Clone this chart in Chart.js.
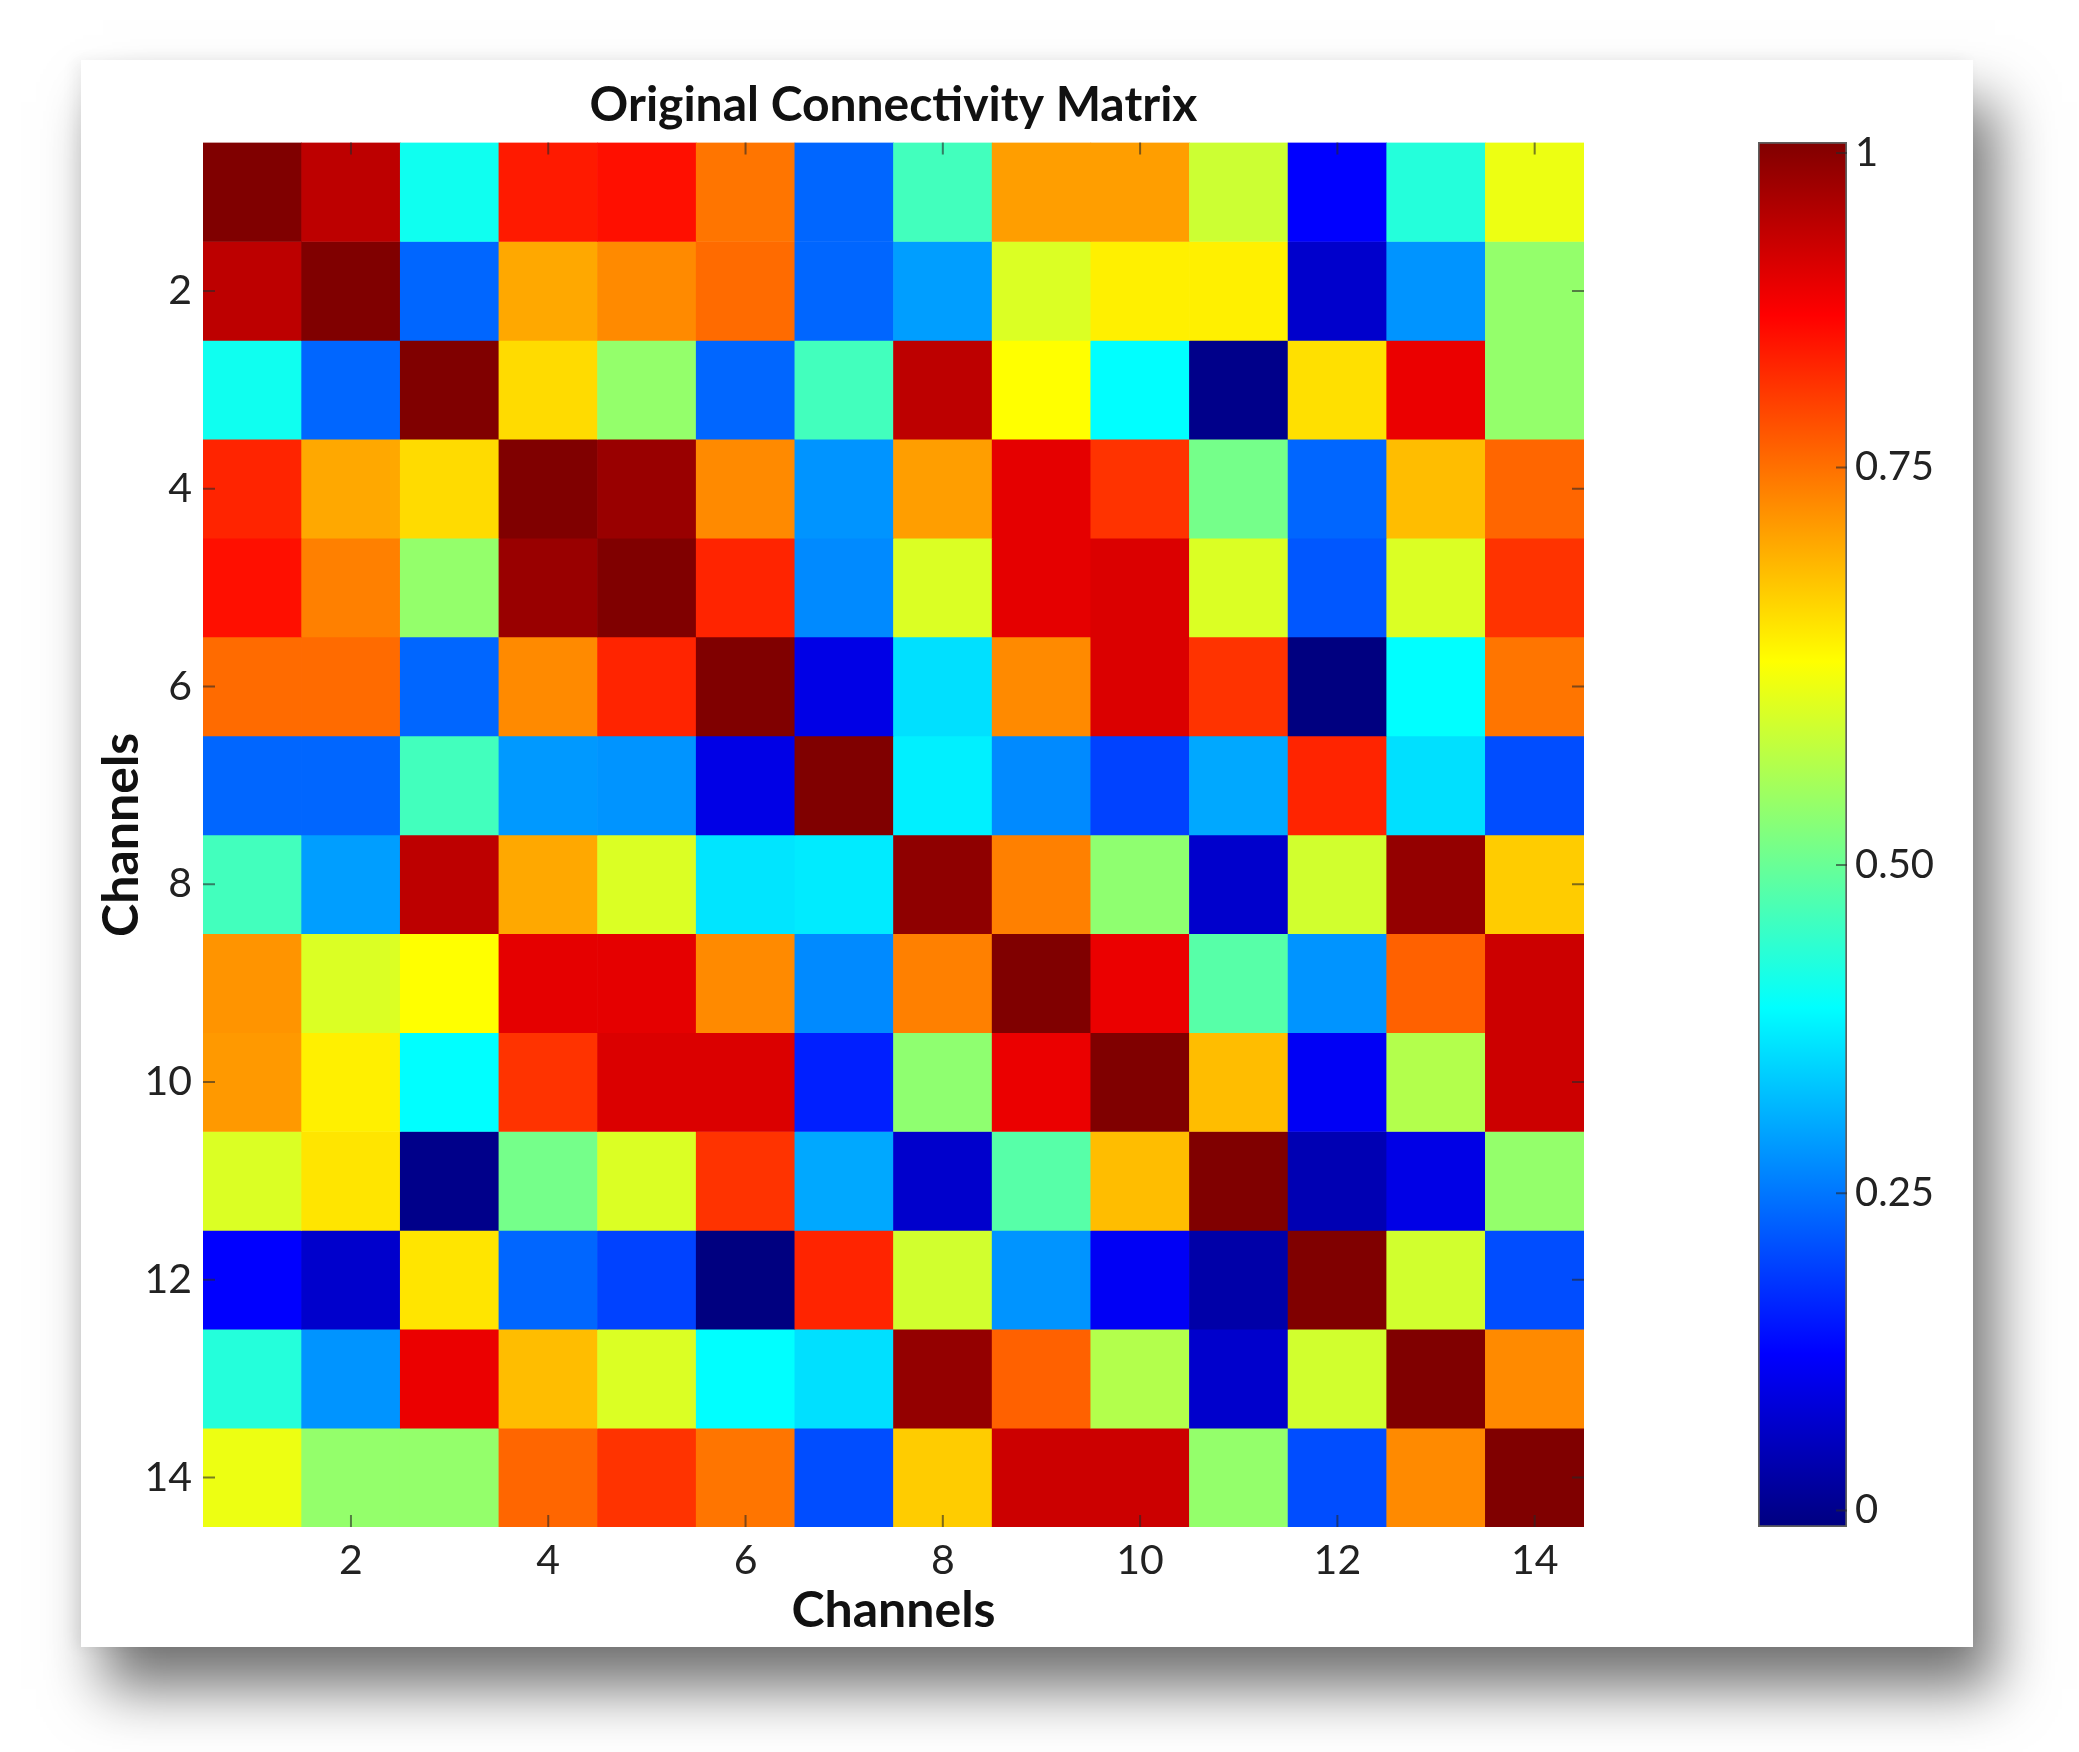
<!DOCTYPE html>
<html>
<head>
<meta charset="utf-8">
<script src="https://cdn.jsdelivr.net/npm/chart.js@4.4.1/dist/chart.umd.min.js"></script>
<style>
  html, body { margin: 0; padding: 0; background: #fff; }
  #page { position: relative; width: 2079px; height: 1752px; overflow: hidden; background: #fff; }
  #card {
    position: absolute; left: 81px; top: 60px; width: 1892px; height: 1587px; background: #fff;
    box-shadow: 22px 42px 55px rgba(0, 0, 0, 0.55), -6px 0 14px rgba(0, 0, 0, 0.06);
  }
  #matrix { position: absolute; left: 0; top: 0; }
  #cbar { position: absolute; left: 1700px; top: 0; }
</style>
</head>
<body>
<div id="page">
  <div id="card"></div>
  <canvas id="matrix" width="1700" height="1752"></canvas>
  <canvas id="cbar" width="379" height="1752"></canvas>
</div>
<script>
const channels = ['1', '2', '3', '4', '5', '6', '7', '8', '9', '10', '11', '12', '13', '14'];
const axisTicks = [2, 4, 6, 8, 10, 12, 14];

// connectivity values, row = channel on y, column = channel on x
const connectivity = [
  [1.00, 0.94, 0.39, 0.85, 0.86, 0.76, 0.225, 0.44, 0.72, 0.72, 0.575, 0.125, 0.41, 0.607],
  [0.94, 1.00, 0.225, 0.71, 0.74, 0.77, 0.225, 0.28, 0.59, 0.64, 0.64, 0.075, 0.27, 0.52],
  [0.39, 0.225, 1.00, 0.66, 0.52, 0.225, 0.44, 0.94, 0.625, 0.375, 0.01, 0.655, 0.895, 0.52],
  [0.84, 0.71, 0.66, 1.00, 0.975, 0.74, 0.27, 0.72, 0.90, 0.825, 0.49, 0.225, 0.69, 0.775],
  [0.86, 0.75, 0.52, 0.975, 1.00, 0.84, 0.26, 0.59, 0.90, 0.91, 0.59, 0.21, 0.59, 0.825],
  [0.77, 0.77, 0.225, 0.74, 0.84, 1.00, 0.10, 0.345, 0.74, 0.91, 0.825, 0.00, 0.375, 0.76],
  [0.225, 0.225, 0.44, 0.275, 0.27, 0.10, 1.00, 0.36, 0.26, 0.19, 0.29, 0.84, 0.345, 0.20],
  [0.44, 0.28, 0.94, 0.71, 0.59, 0.35, 0.355, 0.985, 0.75, 0.515, 0.075, 0.58, 0.98, 0.675],
  [0.73, 0.59, 0.625, 0.90, 0.90, 0.74, 0.26, 0.75, 1.00, 0.895, 0.46, 0.27, 0.78, 0.925],
  [0.725, 0.64, 0.375, 0.825, 0.91, 0.91, 0.155, 0.515, 0.895, 1.00, 0.69, 0.115, 0.55, 0.925],
  [0.59, 0.65, 0.01, 0.49, 0.59, 0.825, 0.29, 0.075, 0.46, 0.69, 1.00, 0.05, 0.10, 0.52],
  [0.125, 0.075, 0.65, 0.225, 0.19, 0.00, 0.84, 0.58, 0.27, 0.115, 0.04, 1.00, 0.58, 0.20],
  [0.41, 0.27, 0.895, 0.69, 0.59, 0.375, 0.345, 0.98, 0.78, 0.55, 0.075, 0.58, 1.00, 0.74],
  [0.607, 0.52, 0.52, 0.775, 0.825, 0.76, 0.20, 0.675, 0.925, 0.925, 0.52, 0.20, 0.74, 1.00],
];

// colorbar labels sit where the original figure put them
const cbarTickValues = [0.012, 0.241, 0.478, 0.765, 0.992];
const cbarTickLabels = ['0', '0.25', '0.50', '0.75', '1'];

function jet(v) {
  const c = (x) => Math.round(255 * Math.max(0, Math.min(1, x)));
  return `rgb(${c(1.5 - Math.abs(4 * v - 3))},${c(1.5 - Math.abs(4 * v - 2))},${c(1.5 - Math.abs(4 * v - 1))})`;
}

function jetGradient(chart) {
  const a = chart.chartArea;
  if (!a) return null;
  const g = chart.ctx.createLinearGradient(0, a.bottom, 0, a.top);
  [0, 0.125, 0.375, 0.625, 0.875, 1].forEach((s) => g.addColorStop(s, jet(s)));
  return g;
}

// small matlab-style ticks pointing into the axes box
const inwardTicks = {
  id: 'inwardTicks',
  afterDatasetsDraw(chart, args, opts) {
    const { ctx, chartArea: a, scales } = chart;
    const len = opts.length || 12;
    ctx.save();
    ctx.strokeStyle = opts.color;
    ctx.lineWidth = 2;
    ctx.beginPath();
    if (opts.x && scales.x) {
      scales.x.ticks.forEach((t, i) => {
        const px = scales.x.getPixelForTick(i);
        ctx.moveTo(px, a.bottom); ctx.lineTo(px, a.bottom - len);
        ctx.moveTo(px, a.top); ctx.lineTo(px, a.top + len);
      });
    }
    if (opts.y && scales.y) {
      scales.y.ticks.forEach((t, i) => {
        const py = scales.y.getPixelForTick(i);
        if (opts.y.includes('left')) { ctx.moveTo(a.left, py); ctx.lineTo(a.left + len, py); }
        if (opts.y.includes('right')) { ctx.moveTo(a.right, py); ctx.lineTo(a.right - len, py); }
      });
    }
    ctx.stroke();
    ctx.restore();
  }
};

const datasets = connectivity.map((row, r) => ({
  label: 'Channel ' + channels[r],
  data: row.map(() => [r + 0.5, r + 1.5]),
  backgroundColor: row.map(jet),
  borderWidth: 0,
  barPercentage: 1,
  categoryPercentage: 1,
  stack: 'm',
}));

new Chart(document.getElementById('matrix'), {
  type: 'bar',
  data: { labels: channels, datasets: datasets },
  options: {
    responsive: false,
    animation: false,
    layout: { padding: { top: 77, left: 92, right: 116, bottom: 111 } },
    plugins: {
      legend: { display: false },
      tooltip: { enabled: false },
      title: {
        display: true,
        fullSize: false,
        text: 'Original Connectivity Matrix',
        color: '#111',
        font: { family: 'Lato', size: 48, weight: 'bold', lineHeight: 1.2 },
        padding: { top: 0, bottom: 8 },
      },
      inwardTicks: { color: 'rgba(40,40,40,0.6)', length: 12, x: true, y: ['left', 'right'] },
    },
    scales: {
      x: {
        stacked: true,
        offset: true,
        grid: { display: false, drawTicks: false },
        border: { display: false },
        ticks: { autoSkip: false, maxRotation: 0, padding: 9, color: '#222', font: { family: 'Lato', size: 41 } },
        afterBuildTicks: (s) => { s.ticks = axisTicks.map((v) => ({ value: v - 1 })); },
        afterFit: (s) => { s.height = 114; },
        title: {
          display: true, text: 'Channels', color: '#111', padding: 0,
          font: { family: 'Lato', size: 50, weight: 'bold', lineHeight: 1.2 },
        },
      },
      y: {
        type: 'linear',
        stacked: false,
        reverse: true,
        min: 0.5,
        max: 14.5,
        grid: { display: false, drawTicks: false },
        border: { display: false },
        ticks: { padding: 11, color: '#222', font: { family: 'Lato', size: 41 } },
        afterBuildTicks: (s) => { s.ticks = axisTicks.map((v) => ({ value: v })); },
        afterFit: (s) => { s.width = 111; },
        title: {
          display: true, text: 'Channels', color: '#111', padding: 0,
          font: { family: 'Lato', size: 50, weight: 'bold', lineHeight: 1.2 },
        },
      },
    },
  },
  plugins: [inwardTicks],
});

new Chart(document.getElementById('cbar'), {
  type: 'bar',
  data: {
    labels: [''],
    datasets: [{
      data: [[0, 1]],
      backgroundColor: (c) => jetGradient(c.chart),
      borderColor: 'rgba(40,40,40,0.75)',
      borderWidth: 2,
      borderSkipped: false,
      barPercentage: 1,
      categoryPercentage: 1,
    }],
  },
  options: {
    responsive: false,
    animation: false,
    layout: { padding: { top: 142, left: 58, right: 82, bottom: 225 } },
    plugins: {
      legend: { display: false },
      tooltip: { enabled: false },
      inwardTicks: { color: 'rgba(40,40,40,0.6)', length: 11, y: ['right'] },
    },
    scales: {
      x: { display: false },
      y: {
        position: 'right',
        min: 0,
        max: 1,
        grid: { display: false, drawTicks: false },
        border: { display: false },
        ticks: {
          padding: 8, color: '#222', font: { family: 'Lato', size: 40 },
          callback: (v, i) => cbarTickLabels[i],
        },
        afterBuildTicks: (s) => { s.ticks = cbarTickValues.map((v) => ({ value: v })); },
        afterFit: (s) => { s.width = 150; },
      },
    },
  },
  plugins: [inwardTicks],
});
</script>
</body>
</html>
